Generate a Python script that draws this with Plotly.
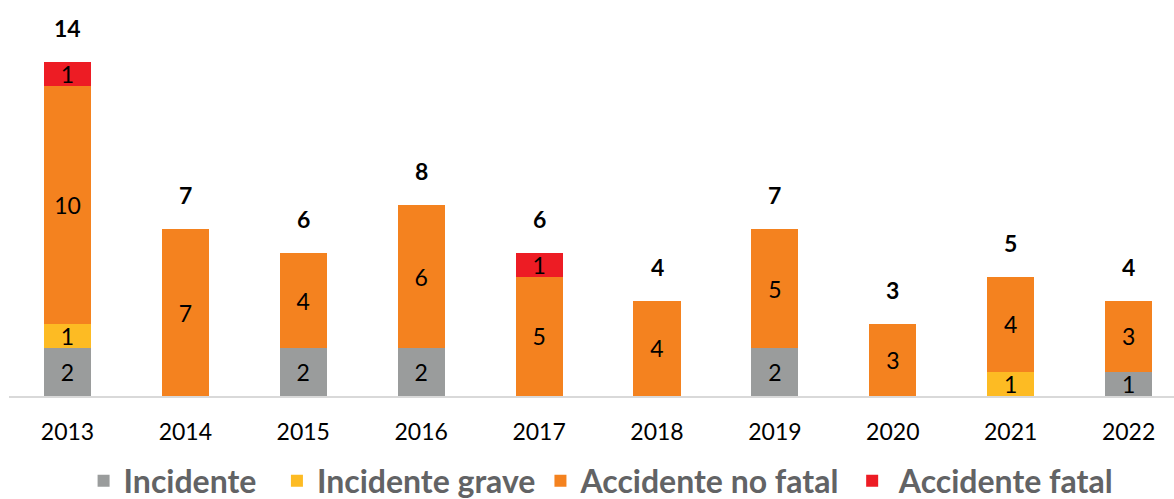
import plotly.graph_objects as go

years = ["2013", "2014", "2015", "2016", "2017", "2018", "2019", "2020", "2021", "2022"]
incidente = [2, 0, 2, 2, 0, 0, 2, 0, 0, 1]
incidente_grave = [1, 0, 0, 0, 0, 0, 0, 0, 1, 0]
accidente_no_fatal = [10, 7, 4, 6, 5, 4, 5, 3, 4, 3]
accidente_fatal = [1, 0, 0, 0, 1, 0, 0, 0, 0, 0]
totals = [14, 7, 6, 8, 6, 4, 7, 3, 5, 4]

NB = "\u00a0"
series = [
    ("Incidente" + NB * 2, incidente, "#9A9C9C"),
    ("Incidente grave", incidente_grave, "#FDBB23"),
    ("Accidente no fatal" + NB, accidente_no_fatal, "#F4821F"),
    (NB + "Accidente fatal", accidente_fatal, "#ED1C24"),
]

FONT = "Lato"
xs = list(range(len(years)))

fig = go.Figure()
for name, vals, color in series:
    fig.add_trace(go.Bar(
        x=xs, y=vals, name=name,
        marker=dict(color=color, line=dict(width=0)),
        width=0.4,
        text=[str(v) if v else "" for v in vals],
        textposition="inside",
        insidetextanchor="middle",
        textangle=0,
        constraintext="none",
        textfont=dict(family=FONT, size=23, color="#000000"),
        hoverinfo="skip",
    ))

for x, t in zip(xs, totals):
    fig.add_annotation(
        x=x, y=t, text=f"<b>{t}</b>", showarrow=False,
        yanchor="middle", yshift=34,
        font=dict(family=FONT, size=23, color="#000000"),
    )

fig.update_layout(
    barmode="stack",
    width=1174, height=499,
    margin=dict(l=9, r=0, t=0, b=103, autoexpand=False),
    plot_bgcolor="#FFFFFF", paper_bgcolor="#FFFFFF",
    showlegend=True,
    legend=dict(
        orientation="h", xref="container", yref="container",
        x=0.512, xanchor="center", y=0.036, yanchor="middle",
        font=dict(family=FONT, size=32, color="#626365", weight="bold"),
        itemclick=False, traceorder="normal",
        itemwidth=30,
    ),
    xaxis=dict(
        range=[-0.496, 9.385],
        tickmode="array", tickvals=xs, ticktext=years,
        tickfont=dict(family=FONT, size=23, color="#000000"),
        showgrid=False, zeroline=False,
        showline=True, linecolor="#D9D9D9", linewidth=2,
        ticks="outside", ticklen=14, tickcolor="rgba(0,0,0,0)",
    ),
    yaxis=dict(
        range=[0, 16.6], visible=False, showgrid=False, zeroline=False,
    ),
    bargap=0.6,
)

fig.write_html(
    "out.html",
    config={"displayModeBar": False, "staticPlot": True},
    post_script="document.body.style.margin='0';document.body.style.overflow='hidden';",
)
